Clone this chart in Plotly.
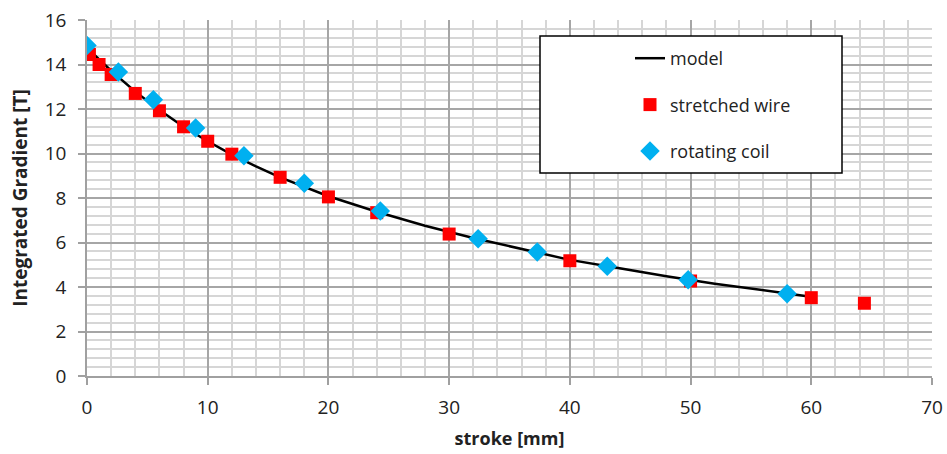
import plotly.graph_objects as go

# model curve
model_x = [0, 2, 4, 6, 8, 10, 12, 14, 16, 18, 20, 24, 28, 32, 36, 40, 44, 48, 52, 56, 59.5]
model_y = [14.75, 13.72, 12.78, 11.95, 11.2, 10.55, 9.95, 9.42, 8.93, 8.5, 8.08, 7.38, 6.75, 6.2, 5.72, 5.22, 4.85, 4.48, 4.15, 3.86, 3.6]

# stretched wire
wire_x = [0, 0.2, 1, 2, 4, 6, 8, 10, 12, 16, 20, 24, 30, 40, 50, 60, 64.4]
wire_y = [14.62, 14.45, 14.0, 13.55, 12.7, 11.92, 11.2, 10.55, 9.97, 8.93, 8.05, 7.34, 6.38, 5.18, 4.27, 3.52, 3.27]

# rotating coil
coil_x = [0, 2.6, 5.5, 9.0, 13.0, 18.0, 24.3, 32.4, 37.3, 43.1, 49.8, 58.0]
coil_y = [14.85, 13.66, 12.42, 11.15, 9.9, 8.66, 7.42, 6.17, 5.57, 4.93, 4.33, 3.7]

x_ticks = [0, 10, 20, 30, 40, 50, 60, 70]
y_ticks = [0, 2, 4, 6, 8, 10, 12, 14, 16]

FONT = "Open Sans"

fig = go.Figure()
fig.add_trace(go.Scatter(x=model_x, y=model_y, mode="lines", name="model",
                         line=dict(color="black", width=2.5), legendgroup="a"))
fig.add_trace(go.Scatter(x=wire_x, y=wire_y, mode="markers", name="stretched wire",
                         marker=dict(symbol="square", size=13, color="#FF0000"), legendgroup="b"))
fig.add_trace(go.Scatter(x=coil_x, y=coil_y, mode="markers", name="rotating coil",
                         marker=dict(symbol="diamond", size=15, color="#00B0F0"), legendgroup="c"))

fig.add_shape(type="rect", xref="paper", yref="paper",
              x0=(540 - 87) / 845, x1=(842 - 87) / 845,
              y0=(376 - 173) / 356, y1=(376 - 36) / 356,
              line=dict(color="black", width=1.5), fillcolor="white", layer="above")

fig.update_layout(
    width=947, height=454,
    margin=dict(l=87, r=15, t=20, b=78, autoexpand=False),
    paper_bgcolor="white", plot_bgcolor="white",
    font=dict(family=FONT, size=19, color="#222"),
    showlegend=True,
    legend=dict(x=(630 - 87) / 845, y=(376 - 40) / 356, xanchor="left", yanchor="top",
                bgcolor="rgba(0,0,0,0)", borderwidth=0,
                traceorder="grouped", tracegroupgap=20,
                font=dict(family=FONT, size=18, color="#222")),
    xaxis=dict(range=[0, 70], tickvals=x_ticks, ticks="outside", ticklen=7,
               tickcolor="#a0a0a0", tickwidth=1.5, showline=True, linecolor="#a0a0a0", linewidth=1.5,
               showgrid=True, gridcolor="#a6a6a6", gridwidth=1.5,
               minor=dict(dtick=2, showgrid=True, gridcolor="#d6d6d6", gridwidth=2),
               zeroline=False, ticklabelstandoff=6, automargin=False,
               tickfont=dict(size=19),
               title=dict(text="<b>stroke [mm]</b>", font=dict(size=18), standoff=14)),
    yaxis=dict(range=[0, 16], tickvals=y_ticks, ticks="outside", ticklen=7,
               tickcolor="#a0a0a0", tickwidth=1.5, showline=True, linecolor="#a0a0a0", linewidth=1.5,
               showgrid=True, gridcolor="#a6a6a6", gridwidth=1.5,
               minor=dict(dtick=0.4, showgrid=True, gridcolor="#d6d6d6", gridwidth=2),
               zeroline=False, ticklabelstandoff=8, automargin=False,
               tickfont=dict(size=19),
               title=dict(text="<b>Integrated Gradient [T]</b>", font=dict(size=19), standoff=12)),
)

fig.write_html("out.html")
